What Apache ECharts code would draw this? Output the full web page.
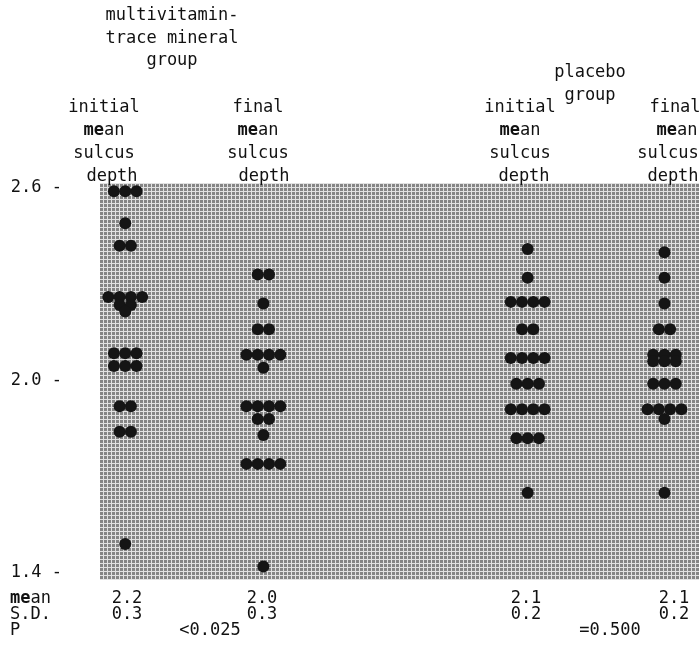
<!DOCTYPE html>
<html><head><meta charset="utf-8">
<script src="https://cdn.jsdelivr.net/npm/echarts@6/dist/echarts.min.js"></script>
<style>html,body{margin:0;padding:0;background:#fff}#c{width:699px;height:650px}</style>
</head><body><div id="c"></div>
<script>
// ---- data ----
const yTickLabels = [1.4, 2.0, 2.6];
const columnNames = ['mvInitial', 'mvFinal', 'plInitial', 'plFinal'];
const columnSlots = [0, 1.04, 3.03, 4.06];
const mvInitial = [2.59, 2.59, 2.59, 2.49, 2.42, 2.42, 2.26, 2.26, 2.26, 2.26, 2.235, 2.235, 2.215,
                   2.085, 2.085, 2.085, 2.045, 2.045, 2.045, 1.92, 1.92, 1.84, 1.84, 1.49];
const mvFinal   = [2.33, 2.33, 2.24, 2.16, 2.16, 2.08, 2.08, 2.08, 2.08, 2.04,
                   1.92, 1.92, 1.92, 1.92, 1.88, 1.88, 1.83, 1.74, 1.74, 1.74, 1.74, 1.42];
const plInitial = [2.41, 2.32, 2.245, 2.245, 2.245, 2.245, 2.16, 2.16, 2.07, 2.07, 2.07, 2.07,
                   1.99, 1.99, 1.99, 1.91, 1.91, 1.91, 1.91, 1.82, 1.82, 1.82, 1.65];
const plFinal   = [2.40, 2.32, 2.24, 2.16, 2.16, 2.08, 2.08, 2.08, 2.06, 2.06, 2.06,
                   1.99, 1.99, 1.99, 1.91, 1.91, 1.91, 1.91, 1.88, 1.65];
const groupTitles = [['multivitamin-', 'trace mineral', 'group'], ['placebo', 'group']];
const columnTitles = [['initial', 'mean', 'sulcus', 'depth'], ['final', 'mean', 'sulcus', 'depth'],
                      ['initial', 'mean', 'sulcus', 'depth'], ['final', 'mean', 'sulcus', 'depth']];
const statRowLabels = ['mean', 'S.D.', 'P'];
const meanValues = ['2.2', '2.0', '2.1', '2.1'];
const sdValues = ['0.3', '0.3', '0.2', '0.2'];
const pValues = ['<0.025', '=0.500'];

// ---- layout of dots: side by side within equal-valued rows ----
const allCols = [mvInitial, mvFinal, plInitial, plFinal];
const DOT_STEP = 0.085;
const points = [];
allCols.forEach((vals, ci) => {
  const counts = {};
  vals.forEach(v => { counts[v] = (counts[v] || 0) + 1; });
  const seen = {};
  vals.forEach(v => {
    const i = seen[v] || 0; seen[v] = i + 1;
    const n = counts[v];
    points.push([columnSlots[ci] + (i - (n - 1) / 2) * DOT_STEP, v]);
  });
});

// ---- background texture ----
const tile = document.createElement('canvas');
tile.width = 4; tile.height = 4;
const tc = tile.getContext('2d');
tc.fillStyle = '#858585'; tc.fillRect(0, 0, 4, 4);
tc.fillStyle = '#e2e2e2'; tc.fillRect(0, 3, 4, 1); tc.fillRect(3, 0, 1, 4);

const FONT = '"DejaVu Sans Mono", monospace';
const FS = 17;
const rich = { b: { fontFamily: FONT, fontSize: FS, fontWeight: 'bold', fill: '#111' } };
function txt(s, x, y, align) {
  const isMean = s === 'mean';
  return {
    type: 'text', x: x, y: y, z: 10,
    style: {
      text: isMean ? '{b|me}an' : s, rich: isMean ? rich : undefined,
      fontFamily: FONT, fontSize: FS, fill: '#111',
      align: align || 'center', verticalAlign: 'middle'
    }
  };
}
const g = [];
groupTitles[0].forEach((s, i) => g.push(txt(s, 172, 16 + i * 22.5)));
groupTitles[1].forEach((s, i) => g.push(txt(s, 590, 73 + i * 23)));
const colTitleX = [[104, 104, 104, 112], [258, 258, 258, 264], [520, 520, 520, 524], [675, 677, 668, 673]];
columnTitles.forEach((lines, ci) => lines.forEach((s, li) => g.push(txt(s, colTitleX[ci][li], 108 + li * 22.7))));
statRowLabels.forEach((s, i) => g.push(txt(s, 10, 599 + i * 16, 'left')));
const statX = [127, 262, 526, 674];
meanValues.forEach((s, i) => g.push(txt(s, statX[i], 599)));
sdValues.forEach((s, i) => g.push(txt(s, statX[i], 615)));
g.push(txt(pValues[0], 210, 631));
g.push(txt(pValues[1], 610, 631));

const chart = echarts.init(document.getElementById('c'), null, { renderer: 'canvas' });
chart.setOption({
  animation: false,
  backgroundColor: '#fff',
  grid: { left: 100, right: 0, top: 183, bottom: 70, show: true, borderWidth: 0,
          backgroundColor: { image: tile, repeat: 'repeat' } },
  xAxis: { type: 'value', min: -0.19, max: 4.32, show: false },
  yAxis: {
    type: 'value', min: 1.378, max: 2.6156,
    axisLine: { show: false }, splitLine: { show: false }, axisTick: { show: false },
    axisLabel: {
      customValues: yTickLabels, margin: 38, color: '#111', fontFamily: FONT, fontSize: FS,
      formatter: v => v.toFixed(1) + ' -'
    }
  },
  series: [{
    type: 'scatter', data: points, symbol: 'circle', symbolSize: 12,
    itemStyle: { color: '#151515', opacity: 1 }
  }],
  graphic: g
});
</script></body></html>
